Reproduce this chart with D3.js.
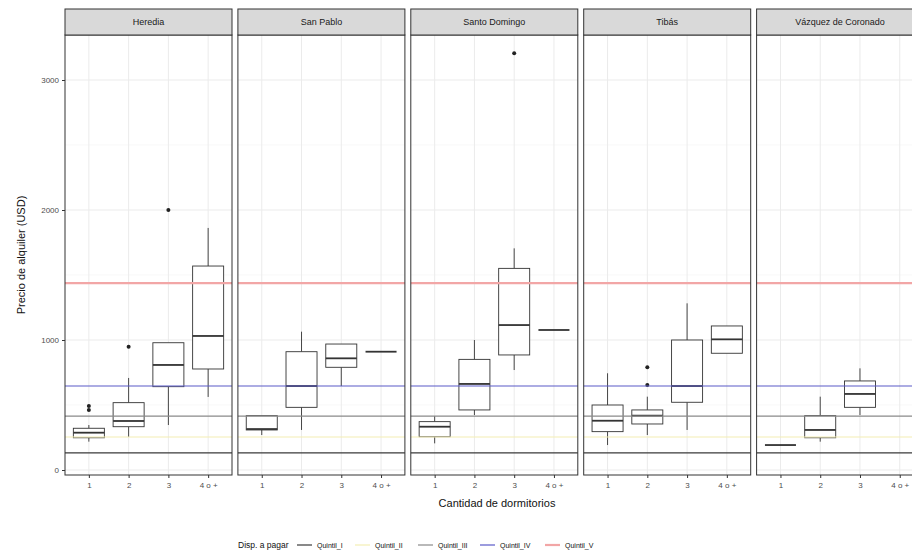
<!DOCTYPE html>
<html><head><meta charset="utf-8">
<script src="https://cdn.jsdelivr.net/npm/d3@7"></script>
<style>body{margin:0;background:#fff;}svg{display:block;font-family:"Liberation Sans",Arial,sans-serif;}</style>
</head><body>
<svg id="c" width="912" height="550"></svg>
<script>
// ---- data ----
const cantones = ["Heredia", "San Pablo", "Santo Domingo", "Tibás", "Vázquez de Coronado"];
const dormitorios = ["1", "2", "3", "4 o +"];
// per canton, per dormitorio category (null = no data)
const whiskerLow = [[218, 254, 346, 562], [269, 308, 646, 910], [205, 423, 769, 1077], [192, 269, 308, 898], [192, 218, 423, null]];
const q1 = [[248, 333, 641, 777], [308, 482, 790, 910], [256, 462, 885, 1077], [295, 354, 521, 898], [192, 248, 482, null]];
const mediana = [[287, 377, 808, 1031], [315, 646, 859, 910], [333, 662, 1115, 1077], [379, 418, 646, 1005], [192, 308, 585, null]];
const q3 = [[321, 518, 979, 1569], [418, 910, 969, 910], [372, 851, 1551, 1077], [500, 462, 1000, 1108], [192, 418, 685, null]];
const whiskerHigh = [[346, 708, 979, 1862], [418, 1064, 969, 910], [415, 1000, 1705, 1077], [744, 564, 1282, 1108], [192, 564, 782, null]];
const atipicos = [[[462, 492], [948], [2000], []], [[], [], [], []], [[], [], [3205], []], [[], [790, 654], [], []], [[], [], [], []]];
const quintilNames = ["Quintil_I", "Quintil_II", "Quintil_III", "Quintil_IV", "Quintil_V"];
const quintilValues = [131, 254, 415, 646, 1438];
const quintilColors = ["#3a3a3a", "#f3eeb4", "#8a8a8a", "#5a5ac8", "#f2a6a6"];
const quintilWidths = [1.2, 1.2, 1.2, 1.2, 2.2];
const yTicks = [0, 1000, 2000, 3000];
const yMinor = [500, 1500, 2500];

// ---- layout ----
const svg = d3.select("#c");
const panelLeft = 65, panelW = 167, panelStep = 172.9;
const plotTop = 35, plotBottom = 475, stripTop = 9;
const y = d3.scaleLinear().domain([0, 1000]).range([470, 340]);
const dark = "#333333";

cantones.forEach((name, i) => {
  const x0 = panelLeft + i * panelStep;
  const x = d3.scalePoint().domain(dormitorios).range([x0, x0 + panelW]).padding(0.6);
  const g = svg.append("g");
  // grid
  g.selectAll(".mn").data(yMinor).join("line")
    .attr("x1", x0).attr("x2", x0 + panelW).attr("y1", d => y(d)).attr("y2", d => y(d))
    .attr("stroke", "#f4f4f4").attr("stroke-width", 0.6);
  g.selectAll(".mj").data(yTicks).join("line")
    .attr("x1", x0).attr("x2", x0 + panelW).attr("y1", d => y(d)).attr("y2", d => y(d))
    .attr("stroke", "#ebebeb").attr("stroke-width", 1);
  g.selectAll(".vx").data(dormitorios).join("line")
    .attr("x1", d => x(d)).attr("x2", d => x(d)).attr("y1", plotTop).attr("y2", plotBottom)
    .attr("stroke", "#ebebeb").attr("stroke-width", 1);
  // boxes
  const bw = x.step() * 0.78;
  dormitorios.forEach((d, j) => {
    if (q1[i][j] == null) return;
    const cx = x(d);
    const b = g.append("g");
    b.append("line").attr("x1", cx).attr("x2", cx).attr("y1", y(q3[i][j])).attr("y2", y(whiskerHigh[i][j])).attr("stroke", dark).attr("stroke-width", 0.9);
    b.append("line").attr("x1", cx).attr("x2", cx).attr("y1", y(q1[i][j])).attr("y2", y(whiskerLow[i][j])).attr("stroke", dark).attr("stroke-width", 0.9);
    b.append("rect").attr("x", cx - bw / 2).attr("width", bw)
      .attr("y", y(q3[i][j])).attr("height", Math.max(0, y(q1[i][j]) - y(q3[i][j])))
      .attr("fill", "white").attr("stroke", dark).attr("stroke-width", 0.9);
    b.append("line").attr("x1", cx - bw / 2).attr("x2", cx + bw / 2).attr("y1", y(mediana[i][j])).attr("y2", y(mediana[i][j]))
      .attr("stroke", dark).attr("stroke-width", 1.8);
    atipicos[i][j].forEach(v => {
      b.append("circle").attr("cx", cx).attr("cy", y(v)).attr("r", 2).attr("fill", "#222");
    });
  });
  // quintile lines
  g.selectAll(".q").data(quintilValues).join("line")
    .attr("x1", x0).attr("x2", x0 + panelW).attr("y1", d => y(d)).attr("y2", d => y(d))
    .attr("stroke", (d, k) => quintilColors[k]).attr("stroke-width", (d, k) => quintilWidths[k]);
  // panel border
  g.append("rect").attr("x", x0).attr("y", plotTop).attr("width", panelW).attr("height", plotBottom - plotTop)
    .attr("fill", "none").attr("stroke", dark).attr("stroke-width", 1);
  // strip
  g.append("rect").attr("x", x0).attr("y", stripTop).attr("width", panelW).attr("height", plotTop - stripTop)
    .attr("fill", "#d9d9d9").attr("stroke", dark).attr("stroke-width", 1);
  g.append("text").attr("x", x0 + panelW / 2).attr("y", (stripTop + plotTop) / 2 + 3)
    .attr("text-anchor", "middle").attr("font-size", 9).attr("fill", "#1a1a1a").text(name);
  // x axis
  const xa = g.append("g").attr("transform", `translate(0,${plotBottom})`)
    .call(d3.axisBottom(x).tickSize(3).tickPadding(4));
  xa.select(".domain").remove();
  xa.selectAll("line").attr("stroke", dark);
  xa.selectAll("text").attr("font-size", 8).attr("fill", "#4d4d4d").attr("font-family", "Liberation Sans, Arial, sans-serif");
});

// y axis
const ya = svg.append("g").attr("transform", `translate(${panelLeft},0)`)
  .call(d3.axisLeft(y).tickValues(yTicks).tickFormat(d3.format("d")).tickSize(3).tickPadding(3));
ya.select(".domain").remove();
ya.selectAll("line").attr("stroke", dark);
ya.selectAll("text").attr("font-size", 8).attr("fill", "#4d4d4d").attr("font-family", "Liberation Sans, Arial, sans-serif");

// titles
svg.append("text").attr("x", 497).attr("y", 507).attr("text-anchor", "middle")
  .attr("font-size", 11).attr("fill", "#111").text("Cantidad de dormitorios");
svg.append("text").attr("transform", "translate(25,255) rotate(-90)").attr("text-anchor", "middle")
  .attr("font-size", 11).attr("fill", "#111").text("Precio de alquiler (USD)");

// legend
const lg = svg.append("g").attr("transform", "translate(0,545)");
lg.append("text").attr("x", 238).attr("y", 3).attr("font-size", 8.5).attr("fill", "#111").text("Disp. a pagar");
const keyX = [297, 355, 418, 480, 545];
quintilNames.forEach((n, k) => {
  lg.append("line").attr("x1", keyX[k]).attr("x2", keyX[k] + 15).attr("y1", 0).attr("y2", 0)
    .attr("stroke", quintilColors[k]).attr("stroke-width", quintilWidths[k]);
  lg.append("text").attr("x", keyX[k] + 20).attr("y", 3).attr("font-size", 7).attr("fill", "#111").text(n);
});
</script>
</body></html>
